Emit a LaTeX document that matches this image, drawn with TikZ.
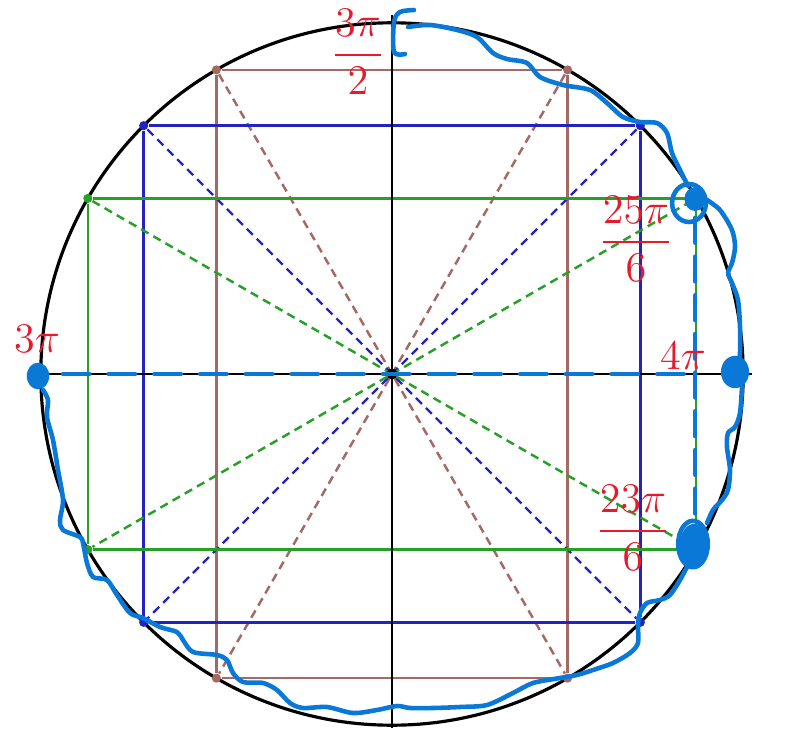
\documentclass[tikz,border=0pt]{standalone}
\usepackage{amsmath}
\usetikzlibrary{calc}

\definecolor{grn}{RGB}{40,160,40}
\definecolor{blu}{RGB}{35,35,195}
\definecolor{brn}{RGB}{165,105,100}
\definecolor{inkblue}{RGB}{10,120,215}
\definecolor{penred}{RGB}{230,25,45}

\begin{document}
\begin{tikzpicture}[
    x=0.01cm, y=-0.01cm,
    rim/.style={black, line width=0.9pt},
    axis/.style={black, line width=0.7pt},
    side/.style={line width=0.7pt},
    diag/.style={line width=0.7pt, dash pattern=on 2.4pt off 1.6pt},
    dot/.style={circle, fill=#1, inner sep=0pt, minimum size=2.6pt},
    scribble/.style={draw=inkblue, line width=1.3pt, line cap=round, line join=round},
    redtext/.style={text=penred, font=\large, inner sep=0pt}
]
\useasboundingbox (0,0) rectangle (793,730);

\coordinate (O) at (392,374);
\coordinate (W) at (27,374);
\coordinate (E) at (752,374);
\coordinate (N) at (392,15);
\coordinate (S) at (392,728);

% unit circle
\draw[rim] (O) circle[radius=3.51cm];

% reference rectangles for 60, 45 and 30 degrees
\foreach \ang/\col/\nm in {60/brn/r, 45/blu/b, 30/grn/g}{
  \foreach \q/\t in {1/\ang, 2/180-\ang, 3/180+\ang, 4/-\ang}
    \node[dot=\col] (\nm\q) at ($(O)+({\t}:3.51cm)$) {};
  \draw[side, \col] (\nm1) -- (\nm2) -- (\nm3) -- (\nm4) -- (\nm1);
  \draw[diag, \col] (\nm1) -- (\nm3);
  \draw[diag, \col] (\nm2) -- (\nm4);
}

% axes
\draw[axis] (W) -- (E);
\draw[axis] (N) -- (S);
\node[dot=black, minimum size=3.2pt] (ctr) at (O) {};

% handwritten blue ink
\draw[scribble] plot[smooth] coordinates {(414,10) (400,12) (394,22) (394,52) (405,54)};
\draw[scribble] plot[smooth] coordinates {(408,27) (430,25) (457,30) (477,37) (493,53) (507,59)
  (527,63) (540,77) (563,85) (590,90) (607,103) (623,117) (640,122) (657,123) (667,133)
  (672,153) (680,170) (688,186)};
\draw[scribble] plot[smooth] coordinates {(707,200) (720,210) (732,230) (735,247) (732,263)
  (728,273) (732,283) (738,300) (740,327) (740,353) (738,367)};
\draw[scribble] plot[smooth] coordinates {(742,387) (740,413) (735,427) (728,433) (727,447)
  (730,470) (728,490) (722,500) (713,510) (707,523)};
\draw[scribble] plot[smooth] coordinates {(688,565) (680,580) (670,595) (660,600) (647,603)
  (640,613) (638,625) (638,643) (630,653) (613,663) (593,670) (577,675) (560,678) (533,683)
  (513,693) (487,705) (460,707) (433,708) (410,708) (397,706) (377,710) (353,713) (327,707)
  (303,708) (290,703) (277,690) (263,683) (243,682) (233,673) (227,660) (217,655) (193,652)
  (183,640) (177,632) (160,627) (143,618) (130,613) (117,595) (107,580) (93,577) (87,563)
  (83,543) (80,537) (63,530) (60,520) (63,500) (58,470) (53,440) (47,417) (48,400) (43,390)};
\draw[scribble, dash pattern=on 7.5pt off 5.5pt] (63,374) -- (702,374);
\draw[scribble, dash pattern=on 7pt off 4pt] (695,218) -- (695,530);

% knots of ink
\fill[inkblue] (695,199) ellipse[x radius=3pt, y radius=3.4pt];
\draw[scribble] (689,203) ellipse[x radius=4.8pt, y radius=5.4pt];
\fill[inkblue] (735,372) ellipse[x radius=4pt, y radius=4.6pt];
\fill[inkblue] (694,545) ellipse[x radius=4pt, y radius=6pt];
\draw[scribble] (693,544) ellipse[x radius=4.2pt, y radius=6.6pt];
\fill[inkblue] (38,376) ellipse[x radius=3.2pt, y radius=3.8pt];

% red labels
\node[redtext] (frac32) at (358,52) {$\dfrac{3\pi}{2}$};
\node[redtext] (frac256) at (636,239) {$\dfrac{25\pi}{6}$};
\node[redtext] (four) at (683,356) {$4\pi$};
\node[redtext] (frac236) at (633,528) {$\dfrac{23\pi}{6}$};
\node[redtext] (three) at (37,339) {$3\pi$};
\end{tikzpicture}
\end{document}
